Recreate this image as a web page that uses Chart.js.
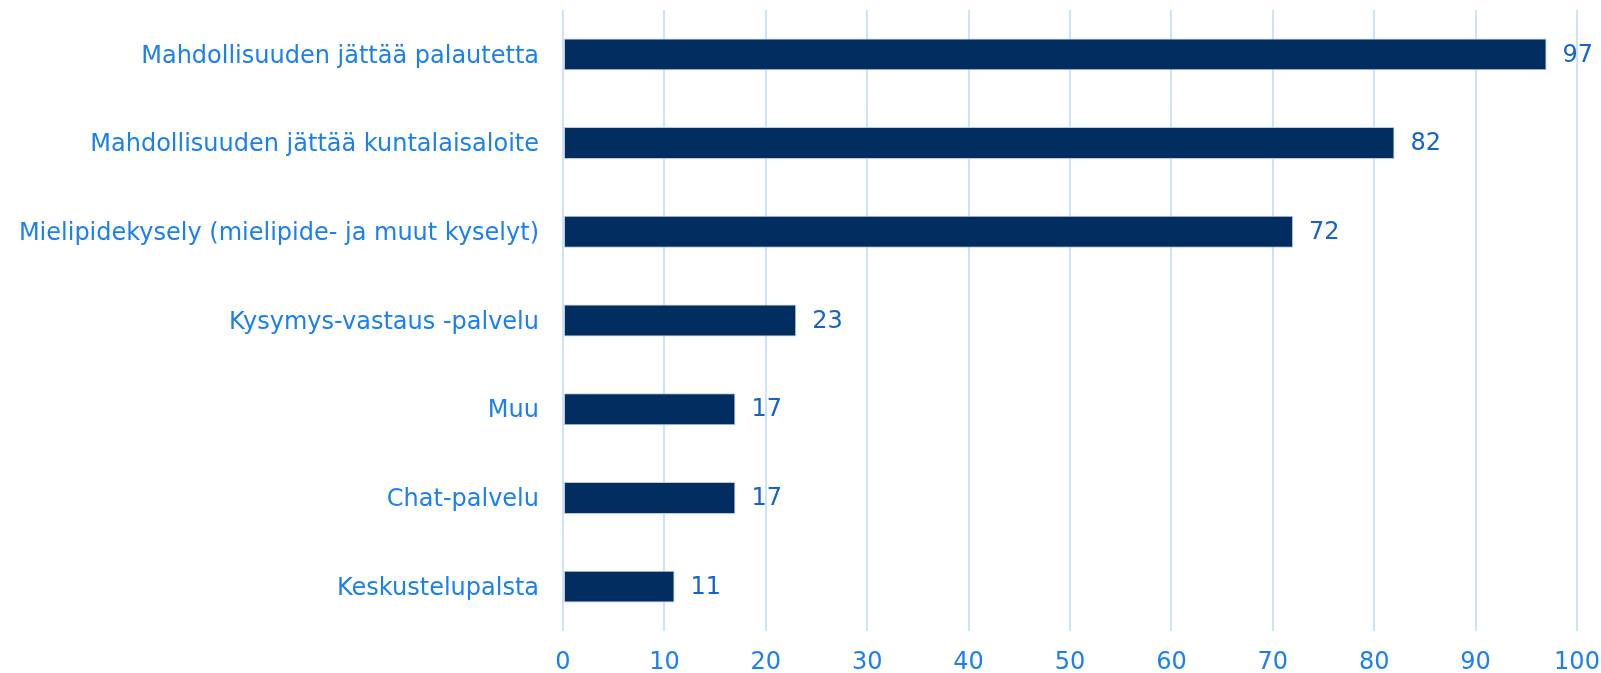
<!DOCTYPE html>
<html>
<head>
<meta charset="utf-8">
<script src="https://cdn.jsdelivr.net/npm/chart.js@4/dist/chart.umd.min.js"></script>
<style>
  html, body { margin: 0; padding: 0; background: #fff; }
  #wrap { width: 1601px; height: 673px; position: relative; }
</style>
</head>
<body>
<div id="wrap"><canvas id="chart"></canvas></div>
<script>
const categories = [
  'Mahdollisuuden jättää palautetta',
  'Mahdollisuuden jättää kuntalaisaloite',
  'Mielipidekysely (mielipide- ja muut kyselyt)',
  'Kysymys-vastaus -palvelu',
  'Muu',
  'Chat-palvelu',
  'Keskustelupalsta'
];
const values = [97, 82, 72, 23, 17, 17, 11];
const xTicks = [0, 10, 20, 30, 40, 50, 60, 70, 80, 90, 100];

const labelBlue = '#1a7ff0';
const valueBlue = '#1565c8';
const gridBlue = '#cde2fb';
const barColor = '#022d61';
const fontFamily = '"DejaVu Sans", Verdana, sans-serif';

// numbers to the right of the bars
const valueLabels = {
  id: 'valueLabels',
  afterDatasetsDraw(chart) {
    const ctx = chart.ctx;
    const meta = chart.getDatasetMeta(0);
    ctx.save();
    ctx.font = '24px ' + fontFamily;
    ctx.fillStyle = valueBlue;
    ctx.textAlign = 'left';
    ctx.textBaseline = 'middle';
    meta.data.forEach((bar, i) => {
      ctx.fillText(String(values[i]), bar.x + 16, bar.y + 1);
    });
    ctx.restore();
  }
};

new Chart(document.getElementById('chart'), {
  type: 'bar',
  data: {
    labels: categories,
    datasets: [{
      data: values,
      backgroundColor: barColor,
      borderColor: '#b9c9dc',
      borderWidth: 1,
      borderSkipped: false,
      barPercentage: 0.36,
      categoryPercentage: 1
    }]
  },
  options: {
    indexAxis: 'y',
    responsive: true,
    maintainAspectRatio: false,
    animation: false,
    layout: { padding: { top: 10, right: 24, left: 0, bottom: 0 } },
    plugins: {
      legend: { display: false },
      tooltip: { enabled: false }
    },
    scales: {
      x: {
        min: 0,
        max: 100,
        afterBuildTicks: (s) => { s.ticks = xTicks.map(v => ({ value: v })); },
        afterFit: (s) => { s.height = 42; s.paddingLeft = 0; s.paddingRight = 0; },
        ticks: {
          color: labelBlue,
          font: { family: fontFamily, size: 24 },
          padding: 17
        },
        grid: { color: gridBlue, lineWidth: 2, drawTicks: false },
        border: { display: false }
      },
      y: {
        afterFit: (s) => { s.width = 563; s.paddingTop = 0; s.paddingBottom = 0; },
        ticks: {
          color: labelBlue,
          font: { family: fontFamily, size: 24 },
          padding: 24,
          labelOffset: 2
        },
        grid: { display: false, drawTicks: false },
        border: { display: false }
      }
    }
  },
  plugins: [valueLabels]
});
</script>
</body>
</html>
